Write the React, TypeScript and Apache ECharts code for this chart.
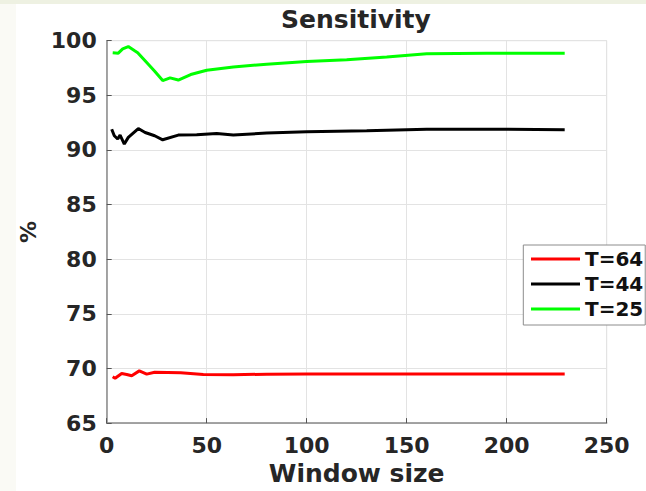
import React, { useEffect, useRef } from "react";
import * as echarts from "echarts";

const seriesNames = ["T=64", "T=44", "T=25"];
const seriesColors = ["#ff0000", "#000000", "#00ff00"];

const redX = [3, 4.2, 7.5, 10, 12.5, 16.3, 20, 24, 37, 48.3, 63.3, 80, 100, 150, 229];
const redY = [69.24, 69.1, 69.54, 69.45, 69.33, 69.78, 69.48, 69.66, 69.6, 69.45, 69.42, 69.48, 69.5, 69.5, 69.5];

const blackX = [2.5, 3.8, 5.5, 6.7, 8.8, 10.8, 15.8, 19.2, 24, 28, 35.8, 45, 55, 63.3, 80, 100, 130, 160, 190, 229];
const blackY = [91.9, 91.3, 91.0, 91.36, 90.54, 91.15, 91.96, 91.6, 91.3, 90.93, 91.36, 91.4, 91.5, 91.36, 91.55, 91.66, 91.75, 91.9, 91.9, 91.85];

const greenX = [3, 5.8, 8, 10.8, 13.8, 15.5, 20, 24, 28, 31.7, 35.8, 42, 50, 63.3, 80, 100, 120, 140, 160, 190, 229];
const greenY = [98.9, 98.86, 99.25, 99.46, 99.1, 98.9, 98.0, 97.2, 96.35, 96.6, 96.4, 96.9, 97.3, 97.6, 97.85, 98.1, 98.25, 98.5, 98.8, 98.85, 98.86];

const xTicks = { min: 0, max: 250, interval: 50 };
const yTicks = { min: 65, max: 100, interval: 5 };

const FONT = "DejaVu Sans";
const TXT = "#262626";

function pairs(xs: number[], ys: number[]) {
  return xs.map((x, i) => [x, ys[i]]);
}

export default function App() {
  const ref = useRef<HTMLDivElement>(null);
  useEffect(() => {
    if (!ref.current) return;
    const chart = echarts.init(ref.current, null, { renderer: "svg" });
    const datas = [pairs(redX, redY), pairs(blackX, blackY), pairs(greenX, greenY)];
    chart.setOption({
      animation: false,
      title: {
        text: "Sensitivity",
        left: 281,
        top: 7,
        padding: 0,
        textStyle: { fontFamily: FONT, fontWeight: "bold", fontSize: 25, color: TXT },
      },
      grid: {
        left: 106.7,
        right: 39.3,
        top: 40.7,
        bottom: 64.3,
        show: true,
        borderColor: "#dcdcdc",
        borderWidth: 1,
        backgroundColor: "#ffffff",
      },
      legend: {
        orient: "vertical",
        left: 523.3,
        top: 245,
        padding: [4, 2, 6, 7.7],
        itemGap: 5,
        itemWidth: 49,
        itemHeight: 3,
        icon: "rect",
        backgroundColor: "#ffffff",
        borderColor: "#8c8c8c",
        borderWidth: 1,
        borderRadius: 0,
        textStyle: { fontFamily: FONT, fontWeight: "bold", fontSize: 20, lineHeight: 20, color: "#111111" },
        data: seriesNames,
      },
      xAxis: {
        type: "value",
        min: xTicks.min,
        max: xTicks.max,
        interval: xTicks.interval,
        name: "Window size",
        nameLocation: "middle",
        nameGap: 37,
        nameTextStyle: { fontFamily: FONT, fontWeight: "bold", fontSize: 25, color: TXT },
        axisLine: { show: true, lineStyle: { color: "#8a8a8a", width: 1.5 } },
        axisTick: { show: true, inside: true, length: 5, lineStyle: { color: "#555" } },
        axisLabel: { margin: 11, fontFamily: FONT, fontWeight: "bold", fontSize: 22, color: TXT },
        splitLine: { show: true, lineStyle: { color: "#e3e3e3", width: 1 } },
      },
      yAxis: {
        type: "value",
        min: yTicks.min,
        max: yTicks.max,
        interval: yTicks.interval,
        name: "%",
        nameLocation: "middle",
        nameRotate: 90,
        nameGap: 65,
        nameTextStyle: { fontFamily: FONT, fontWeight: "bold", fontSize: 22, color: TXT },
        axisLine: { show: true, lineStyle: { color: "#8a8a8a", width: 1.5 } },
        axisTick: { show: true, inside: true, length: 5, lineStyle: { color: "#555" } },
        axisLabel: { margin: 10, fontFamily: FONT, fontWeight: "bold", fontSize: 22, color: TXT },
        splitLine: { show: true, lineStyle: { color: "#e3e3e3", width: 1 } },
      },
      series: seriesNames.map((name, i) => ({
        name,
        type: "line",
        data: datas[i],
        showSymbol: false,
        symbol: "none",
        smooth: false,
        lineStyle: { color: seriesColors[i], width: 3 },
        itemStyle: { color: seriesColors[i] },
      })),
    });
    return () => chart.dispose();
  }, []);

  return (
    <div style={{ position: "fixed", left: 0, top: 0, width: 646, height: 491, background: "#ffffff" }}>
      <div style={{ position: "absolute", left: 0, top: 0, width: 646, height: 4, background: "#eef1e2" }} />
      <div style={{ position: "absolute", left: 0, top: 4, width: 16, height: 487, background: "#fafaf5" }} />
      <div ref={ref} style={{ position: "absolute", left: 0, top: 0, width: 646, height: 491 }} />
    </div>
  );
}
